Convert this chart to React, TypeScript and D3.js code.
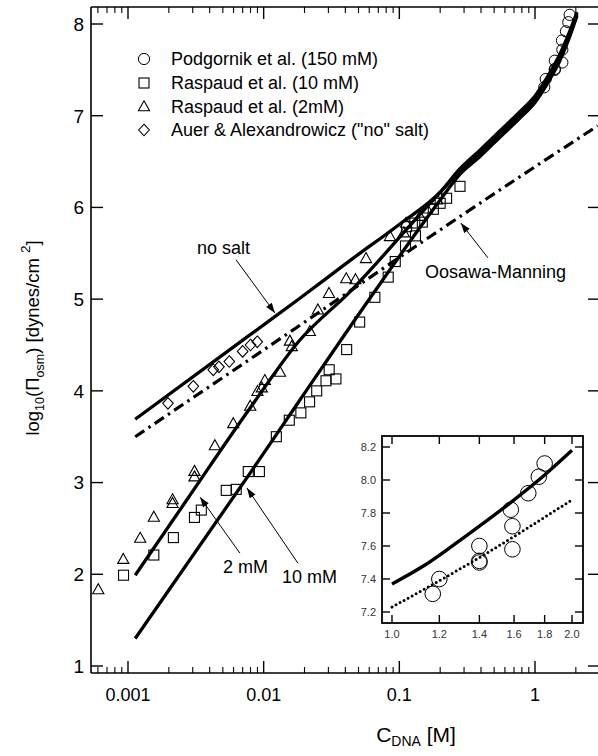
import React from "react";
import * as d3 from "d3";

// ---------- data ----------
const xTickVals = [0.001, 0.01, 0.1, 1];
const xTickLabels = ["0.001", "0.01", "0.1", "1"];
const yTickVals = [1, 2, 3, 4, 5, 6, 7, 8];
const yTickLabels = ["1", "2", "3", "4", "5", "6", "7", "8"];

const insetXTicks = [1.0, 1.2, 1.4, 1.6, 1.8, 2.0];
const insetXLabels = ["1.0", "1.2", "1.4", "1.6", "1.8", "2.0"];
const insetYTicks = [7.2, 7.4, 7.6, 7.8, 8.0, 8.2];
const insetYLabels = ["7.2", "7.4", "7.6", "7.8", "8.0", "8.2"];

const podgornik: [number, number][] = [
  [1.17, 7.31], [1.2, 7.4], [1.4, 7.5], [1.4, 7.51], [1.4, 7.6], [1.59, 7.58],
  [1.59, 7.72], [1.58, 7.82], [1.69, 7.92], [1.76, 8.02], [1.8, 8.1],
];

const raspaud10: [number, number][] = [
  [0.000927, 1.99], [0.00155, 2.21], [0.00216, 2.4], [0.00309, 2.62], [0.00347, 2.7],
  [0.0053, 2.915], [0.00628, 2.926], [0.0077, 3.12], [0.0093, 3.12], [0.0124, 3.5],
  [0.01545, 3.68], [0.0188, 3.76], [0.0218, 3.88], [0.0246, 4.0], [0.0288, 4.11],
  [0.0341, 4.13], [0.0304, 4.23], [0.0409, 4.45], [0.051, 4.75], [0.066, 5.02],
  [0.0828, 5.24], [0.0933, 5.41], [0.111, 5.58], [0.113, 5.79], [0.1315, 5.69],
  [0.13, 5.83], [0.1477, 5.84], [0.178, 5.98], [0.2, 6.045], [0.223, 6.1], [0.28, 6.23],
];

const raspaud2: [number, number][] = [
  [0.000604, 1.83], [0.000923, 2.16], [0.00123, 2.39], [0.00155, 2.62], [0.00213, 2.81],
  [0.00213, 2.77], [0.00309, 3.12], [0.00309, 3.06], [0.00437, 3.4], [0.00597, 3.64],
  [0.00796, 3.83], [0.009, 3.99], [0.0097, 4.03], [0.0102, 4.11], [0.0132, 4.2],
  [0.0156, 4.54], [0.0161, 4.48], [0.0219, 4.645], [0.0251, 4.88], [0.0303, 5.06],
  [0.0406, 5.22], [0.0475, 5.21], [0.0568, 5.44], [0.0853, 5.68], [0.108, 5.72],
  [0.112, 5.825], [0.142, 5.9], [0.16, 5.98], [0.19, 6.08],
];

const auer: [number, number][] = [
  [0.00197, 3.864], [0.00303, 4.05], [0.00425, 4.23], [0.00468, 4.262],
  [0.00558, 4.32], [0.007, 4.43], [0.008, 4.5], [0.00897, 4.535],
];

const noSaltCurve: [number, number][] = [
  [0.00113, 3.69], [0.00792, 4.61], [0.0185, 5.01], [0.0432, 5.42], [0.101, 5.82],
  [0.198, 6.16], [0.279, 6.42], [0.393, 6.625], [0.551, 6.835], [0.774, 7.045],
  [1.0, 7.215], [1.26, 7.445], [1.53, 7.675], [1.78, 7.9], [2.04, 8.13],
];
const twoMMCurve: [number, number][] = [
  [0.00113, 1.99], [0.00271, 2.81], [0.00792, 3.81], [0.0185, 4.554], [0.0432, 5.08],
  [0.177, 6.08], [0.279, 6.39], [0.393, 6.59], [0.551, 6.8], [0.774, 7.01],
  [1.0, 7.18], [1.26, 7.41], [1.53, 7.64], [1.78, 7.87], [2.04, 8.11],
];
const tenMMCurve: [number, number][] = [
  [0.00113, 1.3], [0.00792, 3.1], [0.0185, 3.9], [0.0607, 5.01], [0.2, 6.08],
  [0.279, 6.36], [0.393, 6.555], [0.551, 6.765], [0.774, 6.975], [1.0, 7.145],
  [1.26, 7.375], [1.53, 7.605], [1.78, 7.84], [2.04, 8.09],
];
const oosawaManning: [number, number][] = [
  [0.00113, 3.5], [0.0139, 4.59], [0.168, 5.68], [0.774, 6.335], [2.9, 6.89],
];

const insetTheory: [number, number][] = [
  [1.0, 7.37], [1.13, 7.48], [1.25, 7.59], [1.4, 7.72], [1.575, 7.86], [1.8, 8.03], [2.0, 8.18],
];
const insetDotted: [number, number][] = [
  [1.0, 7.23], [1.4, 7.53], [2.0, 7.88],
];

const legendLabels = [
  "Podgornik et al. (150 mM)",
  "Raspaud et al. (10 mM)",
  "Raspaud et al. (2mM)",
  'Auer & Alexandrowicz ("no" salt)',
];

// annotations in data coordinates: [x, y]
const noSaltText: [number, number] = [0.00323, 5.49];
const noSaltArrow: [number, number][] = [[0.00625, 5.43], [0.0121, 4.85]];
const omText: [number, number] = [0.1545, 5.23];
const omArrow: [number, number][] = [[0.45, 5.45], [0.284, 5.83]];
const twoText: [number, number] = [0.00501, 2.013];
const twoArrow: [number, number][] = [[0.00668, 2.23], [0.0034, 2.84]];
const tenText: [number, number] = [0.01365, 1.904];
const tenArrow: [number, number][] = [[0.0179, 2.12], [0.00753, 2.94]];

// ---------- layout ----------
const W = 598, H = 756;
const PL = 91, PR = 600, PT = 7, PB = 673;
const FONT = "'Liberation Sans', Arial, Helvetica, sans-serif";

const x = d3.scaleLog().domain([0.001, 1]).range([128, 535]);
const y = d3.scaleLinear().domain([1, 8]).range([666, 24]);

const IL = 382, IR = 583, IT = 436, IB = 623;
const ix = d3.scaleLog().domain([1, 2]).range([392, 572]);
const iy = d3.scaleLinear().domain([7.2, 8.2]).range([612, 447]);

const line = d3.line<[number, number]>().x(d => x(d[0])).y(d => y(d[1])).curve(d3.curveMonotoneX);
const iline = d3.line<[number, number]>().x(d => ix(d[0])).y(d => iy(d[1])).curve(d3.curveMonotoneX);

function Square({ cx, cy, s = 5 }: { cx: number; cy: number; s?: number }) {
  return <rect x={cx - s} y={cy - s} width={2 * s} height={2 * s} fill="none" stroke="#000" strokeWidth={1.1} />;
}
function Tri({ cx, cy }: { cx: number; cy: number }) {
  return <path d={`M${cx},${cy - 6.2}L${cx + 5.6},${cy + 3.8}L${cx - 5.6},${cy + 3.8}Z`} fill="none" stroke="#000" strokeWidth={1.1} />;
}
function Diamond({ cx, cy }: { cx: number; cy: number }) {
  return <path d={`M${cx},${cy - 5.8}L${cx + 5.3},${cy}L${cx},${cy + 5.8}L${cx - 5.3},${cy}Z`} fill="none" stroke="#000" strokeWidth={1.1} />;
}

export default function App() {
  const minorX: number[] = [];
  for (let e = -4; e <= 0; e++) {
    for (let m = 2; m <= 9; m++) {
      const v = m * Math.pow(10, e);
      const px = x(v);
      if (px > PL + 1 && px < PR - 1) minorX.push(v);
    }
  }
  const arrow = (pts: [number, number][], key: string) => (
    <line key={key} x1={x(pts[0][0])} y1={y(pts[0][1])} x2={x(pts[1][0])} y2={y(pts[1][1])}
      stroke="#000" strokeWidth={1} markerEnd="url(#ah)" />
  );
  return (
    <svg width={W} height={H} style={{ position: "absolute", left: 0, top: 0, background: "#fff" }} fontFamily={FONT}>
      <defs>
        <clipPath id="plot"><rect x={PL} y={PT} width={PR - PL} height={PB - PT} /></clipPath>
        <marker id="ah" viewBox="0 0 10 8" refX={10} refY={4} markerWidth={11} markerHeight={8}
          orient="auto" markerUnits="userSpaceOnUse">
          <path d="M0,0.5L10,4L0,7.5Z" fill="#000" />
        </marker>
      </defs>
      <rect x={0} y={0} width={W} height={H} fill="#fff" />

      {/* axes frame */}
      <line x1={PL} y1={PT} x2={PL} y2={PB} stroke="#000" strokeWidth={1.6} />
      <line x1={PL} y1={PB} x2={PR} y2={PB} stroke="#000" strokeWidth={1.6} />
      <line x1={PL} y1={PT} x2={PR} y2={PT} stroke="#000" strokeWidth={1.6} />
      <line x1={PR - 1} y1={PT} x2={PR - 1} y2={PB} stroke="#000" strokeWidth={1.6} />

      {/* x ticks */}
      {xTickVals.map(v => (
        <g key={"xt" + v}>
          <line x1={x(v)} x2={x(v)} y1={PB} y2={PB - 12} stroke="#000" strokeWidth={1.4} />
          <line x1={x(v)} x2={x(v)} y1={PT} y2={PT + 12} stroke="#000" strokeWidth={1.4} />
        </g>
      ))}
      {minorX.map(v => (
        <g key={"xm" + v}>
          <line x1={x(v)} x2={x(v)} y1={PB} y2={PB - 6} stroke="#000" strokeWidth={1.1} />
          <line x1={x(v)} x2={x(v)} y1={PT} y2={PT + 6} stroke="#000" strokeWidth={1.1} />
        </g>
      ))}
      {xTickVals.map((v, i) => (
        <text key={"xl" + v} x={x(v)} y={701} fontSize={18} textAnchor="middle">{xTickLabels[i]}</text>
      ))}

      {/* y ticks */}
      {yTickVals.map((v, i) => (
        <g key={"yt" + v}>
          <line x1={PL} x2={PL + 12} y1={y(v)} y2={y(v)} stroke="#000" strokeWidth={1.4} />
          <line x1={PR} x2={PR - 12} y1={y(v)} y2={y(v)} stroke="#000" strokeWidth={1.4} />
          <text x={84} y={y(v)} dy="0.36em" fontSize={19} textAnchor="end">{yTickLabels[i]}</text>
        </g>
      ))}

      {/* axis titles */}
      <text x={416} y={742} fontSize={21} textAnchor="middle">
        C<tspan fontSize={14} dy={4}>DNA</tspan><tspan dy={-4}> [M]</tspan>
      </text>
      <text transform="translate(39,338) rotate(-90)" fontSize={18.5} textAnchor="middle">
        log<tspan fontSize={12.5} dy={5}>10</tspan><tspan dy={-5}>(Π</tspan><tspan fontSize={12.5} dy={5}>osm</tspan><tspan dy={-5}>) [dynes/cm </tspan><tspan fontSize={13.5} dy={-9}>2</tspan><tspan dy={9}>]</tspan>
      </text>

      {/* curves */}
      <g clipPath="url(#plot)" fill="none" stroke="#000">
        <path d={line(oosawaManning) || ""} strokeWidth={3.2} strokeDasharray="11 5 2.5 5" />
        <path d={line(noSaltCurve) || ""} strokeWidth={3.3} />
        <path d={line(twoMMCurve) || ""} strokeWidth={3.3} />
        <path d={line(tenMMCurve) || ""} strokeWidth={3.3} />
      </g>

      {/* data points */}
      <g clipPath="url(#plot)">
        {raspaud10.map((d, i) => <Square key={"s" + i} cx={x(d[0])} cy={y(d[1])} />)}
        {raspaud2.map((d, i) => <Tri key={"t" + i} cx={x(d[0])} cy={y(d[1])} />)}
        {auer.map((d, i) => <Diamond key={"d" + i} cx={x(d[0])} cy={y(d[1])} />)}
        {podgornik.map((d, i) => (
          <circle key={"c" + i} cx={x(d[0])} cy={y(d[1])} r={5.6} fill="none" stroke="#000" strokeWidth={1} />
        ))}
      </g>

      {/* legend */}
      <g fontSize={18}>
        <circle cx={144} cy={59} r={5.6} fill="none" stroke="#000" strokeWidth={1} />
        <Square cx={144} cy={83} />
        <Tri cx={144} cy={107} />
        <Diamond cx={144} cy={130} />
        {legendLabels.map((t, i) => (
          <text key={t} x={171} y={[59, 83, 107, 130][i]} dy="0.36em">{t}</text>
        ))}
      </g>

      {/* annotations */}
      <g fontSize={18}>
        <text x={x(noSaltText[0])} y={y(noSaltText[1])}>no salt</text>
        <text x={x(omText[0])} y={y(omText[1])}>Oosawa-Manning</text>
        <text x={x(twoText[0])} y={y(twoText[1])}>2 mM</text>
        <text x={x(tenText[0])} y={y(tenText[1])}>10 mM</text>
        {arrow(noSaltArrow, "a1")}
        {arrow(omArrow, "a2")}
        {arrow(twoArrow, "a3")}
        {arrow(tenArrow, "a4")}
      </g>

      {/* inset */}
      <g>
        <rect x={IL} y={IT} width={IR - IL} height={IB - IT} fill="#fff" stroke="#000" strokeWidth={1.8} />
        {insetXTicks.map((v, i) => (
          <g key={"ix" + v}>
            <line x1={ix(v)} x2={ix(v)} y1={IB} y2={IB - 8} stroke="#000" strokeWidth={1.4} />
            <line x1={ix(v)} x2={ix(v)} y1={IT} y2={IT + 8} stroke="#000" strokeWidth={1.4} />
            <text x={ix(v)} y={638} fontSize={11} textAnchor="middle" fill="#333">{insetXLabels[i]}</text>
          </g>
        ))}
        {insetYTicks.map((v, i) => (
          <g key={"iy" + v}>
            <line x1={IL} x2={IL + 8} y1={iy(v)} y2={iy(v)} stroke="#000" strokeWidth={1.4} />
            <line x1={IR} x2={IR - 8} y1={iy(v)} y2={iy(v)} stroke="#000" strokeWidth={1.4} />
            <text x={376} y={iy(v)} dy="0.36em" fontSize={11} textAnchor="end" fill="#333">{insetYLabels[i]}</text>
          </g>
        ))}
        <path d={iline(insetTheory) || ""} fill="none" stroke="#000" strokeWidth={3.4} />
        <path d={iline(insetDotted) || ""} fill="none" stroke="#000" strokeWidth={3} strokeDasharray="0 4.6" strokeLinecap="round" />
        {podgornik.map((d, i) => (
          <circle key={"ic" + i} cx={ix(d[0])} cy={iy(d[1])} r={7.8} fill="none" stroke="#000" strokeWidth={1} />
        ))}
      </g>
    </svg>
  );
}
